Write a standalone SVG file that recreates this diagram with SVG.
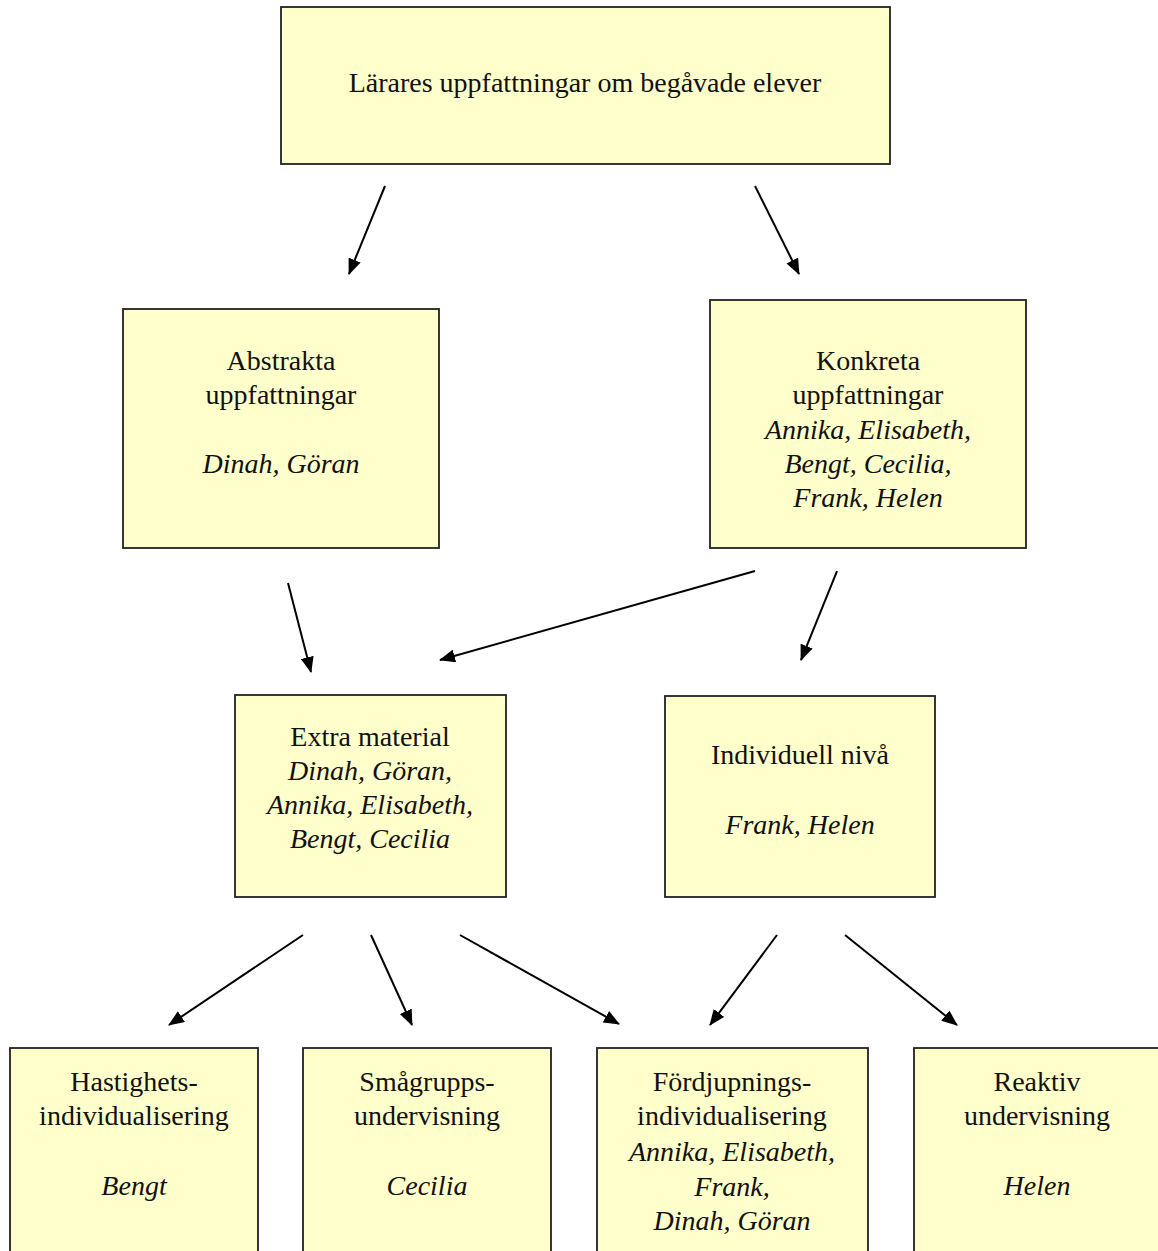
<svg xmlns="http://www.w3.org/2000/svg" width="1158" height="1251" viewBox="0 0 1158 1251">
<style>
.box{fill:#FFFFCC;stroke:#222;stroke-width:1.8}
text{font-family:"Liberation Serif","Times New Roman",serif;font-size:28px;fill:#111;text-anchor:middle}
.i{font-style:italic}
.c line{stroke:#000;stroke-width:2;marker-end:url(#ah)}
</style>
<defs>
<marker id="ah" markerWidth="16" markerHeight="13" refX="15" refY="6.5" orient="auto" markerUnits="userSpaceOnUse" viewBox="0 0 16 13">
<path d="M0,0 L16,6.5 L0,13 Z" fill="#000"/>
</marker>
</defs>
<rect width="1158" height="1251" fill="#fff"/>
<g id="n-top"><rect class="box" x="281" y="7" width="609" height="157"/><text x="585" y="92">Lärares uppfattningar om begåvade elever</text></g>
<g id="n-abstrakta"><rect class="box" x="123" y="309" width="316" height="239"/><text x="281" y="370">Abstrakta</text><text x="281" y="404">uppfattningar</text><text class="i" x="281" y="473">Dinah, Göran</text></g>
<g id="n-konkreta"><rect class="box" x="710" y="300" width="316" height="248"/><text x="868" y="370">Konkreta</text><text x="868" y="404">uppfattningar</text><text class="i" x="868" y="439">Annika, Elisabeth,</text><text class="i" x="868" y="473">Bengt, Cecilia,</text><text class="i" x="868" y="507">Frank, Helen</text></g>
<g id="n-extra"><rect class="box" x="235" y="695" width="271" height="202"/><text x="370" y="746">Extra material</text><text class="i" x="370" y="780">Dinah, Göran,</text><text class="i" x="370" y="814">Annika, Elisabeth,</text><text class="i" x="370" y="848">Bengt, Cecilia</text></g>
<g id="n-individuell"><rect class="box" x="665" y="696" width="270" height="201"/><text x="800" y="764">Individuell nivå</text><text class="i" x="800" y="834">Frank, Helen</text></g>
<g id="n-hastighets"><rect class="box" x="10" y="1048" width="248" height="210"/><text x="134" y="1091">Hastighets-</text><text x="134" y="1125">individualisering</text><text class="i" x="134" y="1195">Bengt</text></g>
<g id="n-smagrupps"><rect class="box" x="303" y="1048" width="248" height="210"/><text x="427" y="1091">Smågrupps-</text><text x="427" y="1125">undervisning</text><text class="i" x="427" y="1195">Cecilia</text></g>
<g id="n-fordjupnings"><rect class="box" x="597" y="1048" width="271" height="210"/><text x="732" y="1091">Fördjupnings-</text><text x="732" y="1125">individualisering</text><text class="i" x="732" y="1161">Annika, Elisabeth,</text><text class="i" x="732" y="1196">Frank,</text><text class="i" x="732" y="1230">Dinah, Göran</text></g>
<g id="n-reaktiv"><rect class="box" x="914" y="1048" width="250" height="210"/><text x="1037" y="1091">Reaktiv</text><text x="1037" y="1125">undervisning</text><text class="i" x="1037" y="1195">Helen</text></g>
<g class="c" id="connectors">
<line x1="385" y1="186" x2="349" y2="274"/>
<line x1="755" y1="186" x2="799" y2="274"/>
<line x1="288" y1="583" x2="311" y2="672"/>
<line x1="755" y1="571" x2="440" y2="660"/>
<line x1="837" y1="571" x2="801" y2="660"/>
<line x1="303" y1="935" x2="169" y2="1025"/>
<line x1="371" y1="935" x2="412" y2="1025"/>
<line x1="460" y1="935" x2="619" y2="1024"/>
<line x1="777" y1="935" x2="710" y2="1025"/>
<line x1="845" y1="935" x2="957" y2="1025"/>
</g>
</svg>
